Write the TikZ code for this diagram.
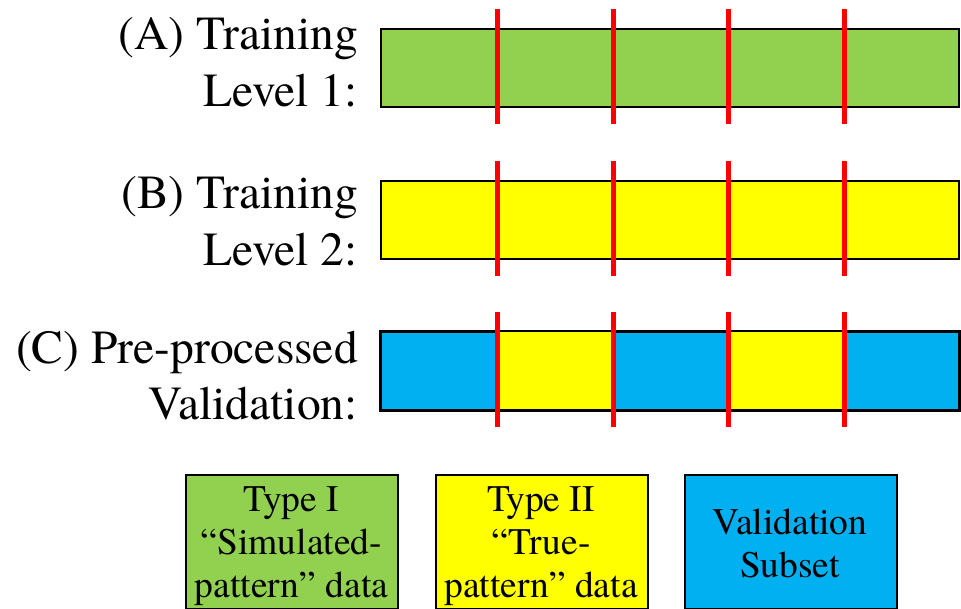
\documentclass[tikz,border=0pt]{standalone}
\usepackage{fontspec}
\setmainfont{TeX Gyre Termes}
\definecolor{typeone}{HTML}{92D050}
\definecolor{typetwo}{HTML}{FFFF00}
\definecolor{valblue}{HTML}{00B0F0}
\definecolor{cut}{HTML}{FF0000}
\begin{document}
\begin{tikzpicture}[x=1pt,y=-1pt,
  bar/.style={draw=black,line width=2pt,inner sep=0pt,minimum width=578pt,minimum height=78pt,anchor=north west},
  cutline/.style={draw=cut,line width=5pt},
  rowlabel/.style={align=right,anchor=base east,inner sep=0pt,font=\fontsize{47.5}{57}\selectfont},
  legbox/.style={draw=black,line width=2pt,inner sep=0pt,minimum width=212pt,minimum height=134pt,anchor=north west},
  legtext/.style={align=center,anchor=base,inner sep=0pt,font=\fontsize{37.5}{43}\selectfont}]
\useasboundingbox (0,0) rectangle (961,609);

% data bars
\node[bar,fill=typeone] (barA) at (380,28) {};
\node[bar,fill=typetwo] (barB) at (380,180) {};
\node[bar,fill=valblue] (barC) at (380,331) {};
% Type II portions of the validation bar, then its border again on top
\fill[typetwo] (497,331) rectangle (613,409);
\fill[typetwo] (728,331) rectangle (844,409);
\draw[line width=2pt] (barC.north west) rectangle (barC.south east);

% fold boundaries
\foreach \xx in {497,613,728,844}{
  \draw[cutline] (\xx,9) -- (\xx,124);
  \draw[cutline] (\xx,161) -- (\xx,276);
  \draw[cutline] (\xx,312) -- (\xx,427);
}

% row labels (anchored on the baseline of their last line)
\node[rowlabel] (labA) at (358,107) {(A) Training\\Level 1:};
\node[rowlabel] (labB) at (358,266) {(B) Training\\Level 2:};
\node[rowlabel] (labC) at (358,420) {(C) Pre-processed\\Validation:};

% legend
\node[legbox,fill=typeone] (legA) at (185,474) {};
\node[legbox,fill=typetwo] (legB) at (435,474) {};
\node[legbox,fill=valblue] (legC) at (684,474) {};
\node[legtext] (txtA) at (291.5,597) {Type I\\“Simulated-\\pattern” data};
\node[legtext] (txtB) at (541,597) {Type II\\“True-\\pattern” data};
\node[legtext] (txtC) at (790,577) {Validation\\Subset};
\end{tikzpicture}
\end{document}
